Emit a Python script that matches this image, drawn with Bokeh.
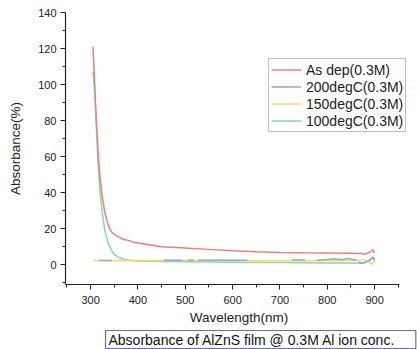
from bokeh.plotting import figure
from bokeh.models import Title, Legend, LegendItem, FixedTicker
from bokeh.embed import file_html
from bokeh.resources import INLINE
import numpy as np

# ---- data ----
red_wl = [305, 308, 310, 313, 316, 320, 325, 330, 335, 340, 345, 350, 355, 360, 370, 380, 390, 400,
          420, 450, 500, 550, 600, 650, 700, 750, 800, 850, 870, 880, 890, 896, 900]
red_ab = [121, 105, 92, 76, 62, 48, 37, 29, 24, 20, 18, 16.8, 16, 15.3, 14, 13.5, 12.5, 12,
          11.2, 10, 9.3, 8.5, 7.8, 7.2, 6.8, 6.6, 6.5, 6.4, 6.2, 5.8, 7.0, 8.3, 6.5]

green_wl = [305, 308, 310, 313, 316, 320, 325, 330, 337, 345, 351, 360, 370, 380, 400, 450, 500,
            600, 700, 800, 850, 870, 880, 890, 895, 900]
green_ab = [107, 98, 88, 72, 55, 40, 28, 19, 12, 7.5, 5.5, 4, 3, 2.5, 2.0, 1.7, 1.6,
            1.4, 1.2, 1.0, 1.0, 0.8, 1.2, 2.5, 4.2, 2.5]

yellow_wl = [305, 400, 500, 600, 700, 800, 860, 875, 885, 890, 894, 897, 900]
yellow_ab = [2.3, 2.3, 2.3, 2.3, 2.2, 2.2, 2.3, 2.8, 2.0, 1.0, 0.2, 1.5, 2.6]

blue_wl = [318, 330, 345, np.nan, 455, 494, np.nan, 505, 518, np.nan, 527, 580, 631, np.nan,
           726, 753, np.nan, 778, 800, 815, 830, 845, 862, np.nan, 866, 875, 885, 892, 897, 900]
blue_ab = [2.3, 2.3, 2.3, np.nan, 2.4, 2.4, np.nan, 2.4, 2.4, np.nan, 2.4, 2.4, 2.4, np.nan,
           2.6, 2.6, np.nan, 2.5, 2.9, 3.3, 2.8, 3.4, 2.5, np.nan, 1.5, 0.8, 2.0, 3.0, 4.3, 2.5]

labels = ["As dep(0.3M)", "200degC(0.3M)", "150degC(0.3M)", "100degC(0.3M)"]
colors = ["#f47c7c", "#92a9cf", "#ffd46a", "#82dca4"]

x_ticks = [300, 400, 500, 600, 700, 800, 900]
y_ticks = [0, 20, 40, 60, 80, 100, 120, 140]

FONT = "Liberation Sans"

p = figure(width=417, height=349, output_backend="svg", toolbar_location=None,
           x_range=(247, 980), y_range=(-11, 140),
           min_border_left=65, min_border_right=5, min_border_top=12, min_border_bottom=2)
p.outline_line_color = None
p.xgrid.visible = False
p.ygrid.visible = False
p.background_fill_color = "white"
p.border_fill_color = "white"

r_green = p.line(green_wl, green_ab, color=colors[3], line_width=1.5)
r_yellow = p.line(yellow_wl, yellow_ab, color=colors[2], line_width=1.5)
r_blue = p.line(blue_wl, blue_ab, color=colors[1], line_width=1.5)
r_red = p.line(red_wl, red_ab, color=colors[0], line_width=1.5)

for ax in (p.xaxis[0], p.yaxis[0]):
    ax.axis_line_color = "#222222"
    ax.axis_line_width = 1.2
    ax.major_tick_line_color = "#222222"
    ax.minor_tick_line_color = "#222222"
    ax.major_tick_out = 5
    ax.major_tick_in = 0
    ax.minor_tick_out = 3
    ax.minor_tick_in = 0
    ax.major_label_text_font = FONT
    ax.major_label_text_font_size = "11px"
    ax.major_label_text_color = "#222222"
    ax.axis_label_text_font = FONT
    ax.axis_label_text_font_size = "13.5px"
    ax.axis_label_text_font_style = "normal"
    ax.axis_label_text_color = "#222222"

p.xaxis[0].bounds = (247, 953)
p.xaxis[0].ticker = FixedTicker(ticks=x_ticks, minor_ticks=[250, 350, 450, 550, 650, 750, 850, 950])
p.yaxis[0].ticker = FixedTicker(ticks=y_ticks, minor_ticks=[-10, 10, 30, 50, 70, 90, 110, 130])
p.xaxis[0].axis_label = "Wavelength(nm)"
p.yaxis[0].axis_label = "Absorbance(%)"
p.xaxis[0].major_label_standoff = 6
p.xaxis[0].axis_label_standoff = 3
p.yaxis[0].major_label_standoff = 4
p.yaxis[0].axis_label_standoff = 12

legend = Legend(items=[LegendItem(label=labels[0], renderers=[r_red]),
                       LegendItem(label=labels[1], renderers=[r_blue]),
                       LegendItem(label=labels[2], renderers=[r_yellow]),
                       LegendItem(label=labels[3], renderers=[r_green])],
                location=(203, 152))
legend.border_line_color = "#808080"
legend.border_line_width = 1
legend.padding = 2
legend.spacing = 0
legend.margin = 0
legend.label_height = 17
legend.glyph_height = 17
legend.glyph_width = 30
legend.label_standoff = 5
legend.label_text_font = FONT
legend.label_text_font_size = "14px"
legend.label_text_color = "#222222"
legend.background_fill_alpha = 1
p.add_layout(legend)

title = Title(text="Absorbance of AlZnS film @ 0.3M Al ion conc.",
              text_font=FONT, text_font_size="14px", text_color="#111111",
              text_font_style="normal", align="left", offset=40, standoff=2,
              border_line_color="#6a6ac8", border_line_width=1.2,
              background_fill_color="white",
              padding=dict(left=3, right=20, top=1, bottom=1))
p.add_layout(title, "below")

open("out.html", "w").write(file_html(p, INLINE))
